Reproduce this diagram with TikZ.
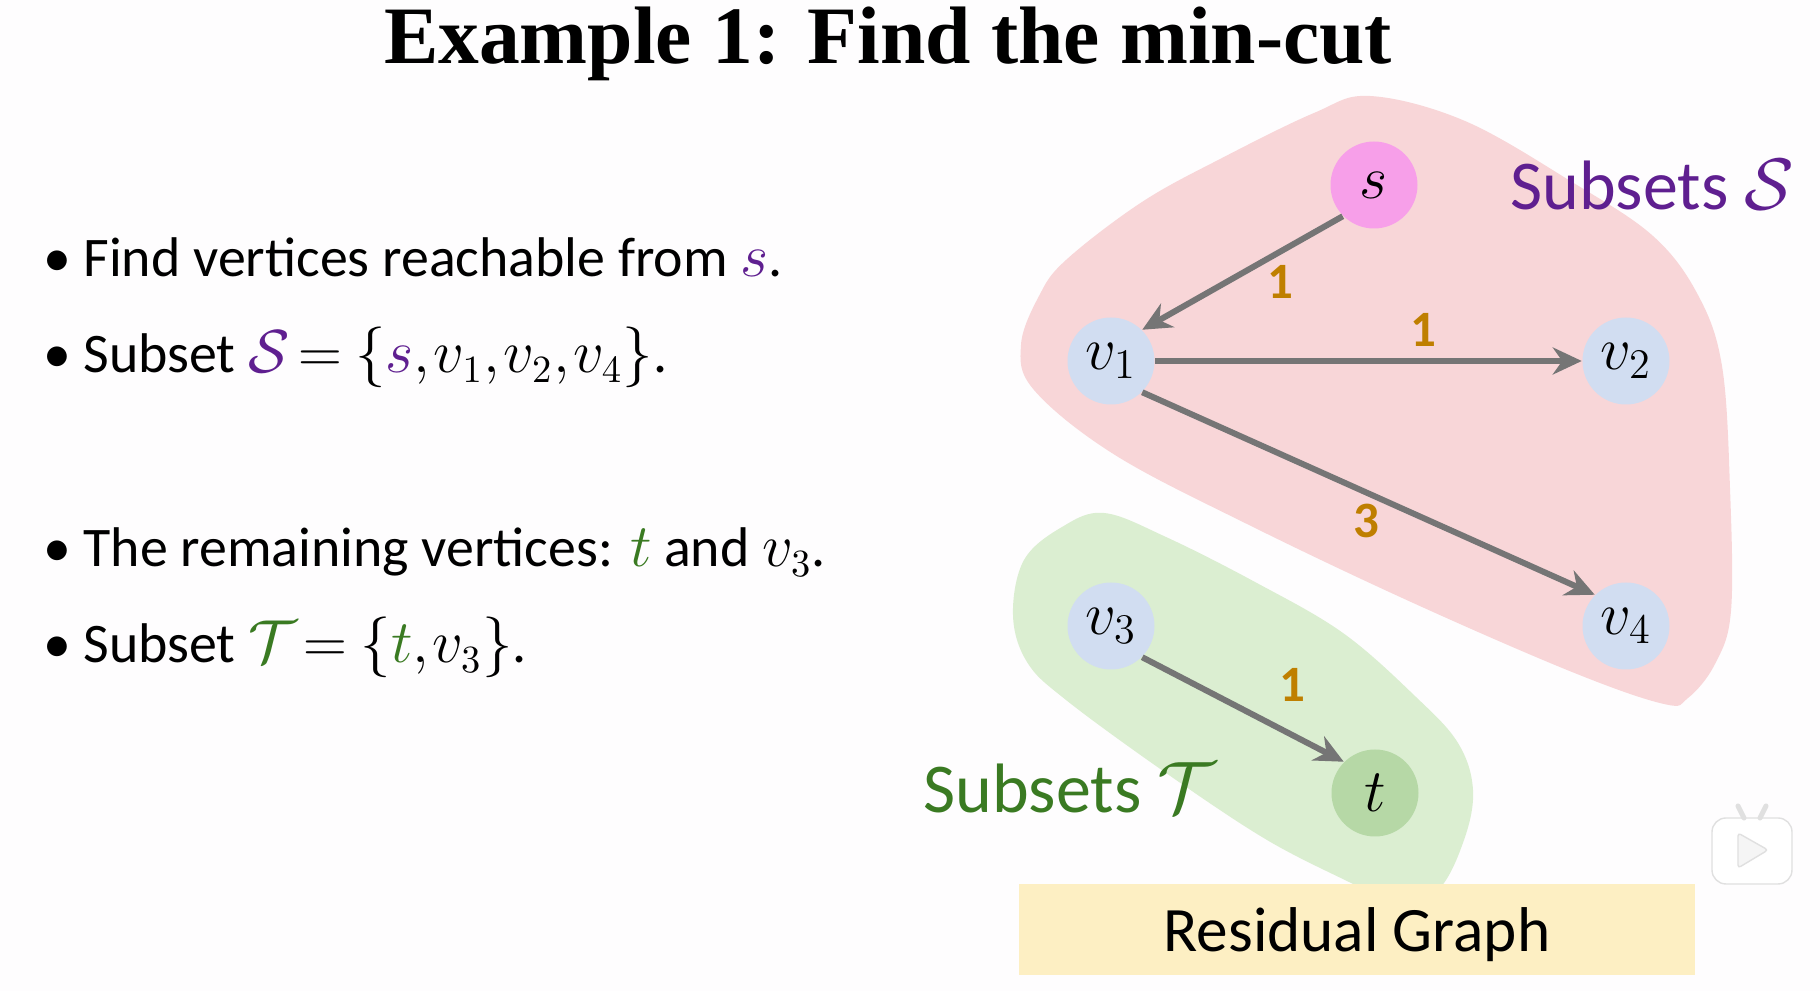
\documentclass[tikz,border=0pt]{standalone}
\usepackage{amsmath,amssymb}
\usepackage{fontspec}
\setmainfont{Carlito}
\newfontfamily\titlefont{Liberation Serif}
\usetikzlibrary{arrows.meta,positioning}
\definecolor{pagebg}{HTML}{FEFDFE}
\definecolor{setSred}{HTML}{F8D6D8}
\definecolor{setTgreen}{HTML}{DBEED1}
\definecolor{vtxblue}{HTML}{D1DDF1}
\definecolor{srcpink}{HTML}{F79FE9}
\definecolor{snkgreen}{HTML}{B6D8A6}
\definecolor{edgegray}{HTML}{757575}
\definecolor{wtorange}{HTML}{BF7F00}
\definecolor{txtpurple}{HTML}{5F1F90}
\definecolor{txtgreen}{HTML}{3A7A22}
\definecolor{bannerY}{HTML}{FDEFC3}
\newcommand{\bodyfont}{\fontsize{15.9}{19}\selectfont}
\newcommand{\Spur}[1]{\textcolor{txtpurple}{#1}}
\newcommand{\Tgrn}[1]{\textcolor{txtgreen}{#1}}
\tikzset{
  vtx/.style={circle,fill=vtxblue,minimum size=0.87cm,inner sep=0pt,font=\fontsize{18}{21}\selectfont},
  flowarr/.style={-{Stealth[length=0.29cm,width=0.27cm]},line width=0.06cm,edgegray},
  wt/.style={font=\fontsize{14.5}{17}\selectfont\bfseries,text=wtorange,inner sep=0pt},
  bullet/.style={anchor=base west,font=\bodyfont,inner sep=0pt},
  setlabel/.style={anchor=base west,font=\fontsize{19.9}{23}\selectfont,inner sep=0pt},
}
\begin{document}
\begin{tikzpicture}
  \useasboundingbox (0,0) rectangle (18.2,-9.91);
  \fill[pagebg] (0,0) rectangle (18.2,-9.91);
  % the two subsets, read off by hand
  \fill[setSred] plot[smooth cycle,tension=0.6] coordinates {(13.70,-0.96) (14.65,-1.21) (15.72,-1.82)
    (16.53,-2.36) (16.98,-2.95) (17.22,-3.66) (17.30,-4.88) (17.31,-6.11) (17.15,-6.64)
    (16.88,-6.98) (16.64,-7.04) (15.72,-6.72) (14.11,-6.02) (12.49,-5.25) (11.15,-4.55)
    (10.34,-3.90) (10.21,-3.45) (10.39,-2.96) (10.66,-2.60) (11.42,-2.02) (12.22,-1.58) (13.14,-1.13)};
  \fill[setTgreen] plot[smooth cycle,tension=0.6] coordinates {(11.04,-5.13) (11.66,-5.37) (12.55,-5.82)
    (13.43,-6.33) (14.16,-6.97) (14.58,-7.43) (14.73,-7.90) (14.64,-8.40) (14.38,-8.90)
    (13.95,-9.05) (13.55,-8.85) (12.67,-8.40) (11.66,-7.73) (10.66,-7.00) (10.27,-6.62)
    (10.13,-6.15) (10.24,-5.60) (10.62,-5.27)};
  \node[fill=bannerY,minimum width=6.76cm,minimum height=0.91cm,inner sep=0pt,text height=0.58cm,text depth=0.14cm,font=\fontsize{18}{21}\selectfont] (banner) at (13.57,-9.295) {Residual Graph};
  \node[font=\fontsize{23.2}{28}\titlefont\bfseries\selectfont,anchor=base,inner sep=0pt] (title) at (8.88,-0.64) {Example 1: Find the min-cut};
  % left column
  \node[bullet] (line1) at (0.43,-2.77) {\textbullet\hspace{0.12cm}Find vertices reachable from \Spur{$s$}.};
  \node[bullet] (line2) at (0.43,-3.73) {\textbullet\hspace{0.12cm}Subset \Spur{$\mathcal{S}$}\hspace{-0.04cm} $=\mkern-1mu\{\Spur{s},\mkern-2mu v_1,\mkern-2mu v_2,\mkern-2mu v_4\}$.};
  \node[bullet] (line3) at (0.43,-5.67) {\textbullet\hspace{0.12cm}The remaining vertices: \Tgrn{$t$} and $v_3$.};
  \node[bullet] (line4) at (0.43,-6.63) {\textbullet\hspace{0.12cm}Subset \Tgrn{$\mathcal{T}$}\hspace{-0.06cm} $=\mkern-1mu\{\Tgrn{t},\mkern-2mu v_3\}$.};
  % graph
  \node[vtx,fill=srcpink] (s) at (13.74,-1.85) {$s$};
  \node[vtx] (v1) at (11.11,-3.61) {$v_1$};
  \node[vtx] (v2) at (16.26,-3.61) {$v_2$};
  \node[vtx] (v3) at (11.11,-6.26) {$v_3$};
  \node[vtx] (v4) at (16.26,-6.26) {$v_4$};
  \node[vtx,fill=snkgreen] (t) at (13.75,-7.93) {$t$};
  \draw[flowarr] (s.225) -- (v1.45);
  \draw[flowarr] (v1) -- (v2);
  \draw[flowarr] (v1.-45) -- (v4.135);
  \draw[flowarr] (v3.-45) -- (t.135);
  \node[wt] (w1) at (12.80,-2.82) {1};
  \node[wt] (w2) at (14.23,-3.30) {1};
  \node[wt] (w3) at (13.66,-5.21) {3};
  \node[wt] (w4) at (12.92,-6.85) {1};
  \node[setlabel,text=txtpurple] (labS) at (15.10,-2.10) {Subsets $\mathcal{S}$};
  \node[setlabel,text=txtgreen] (labT) at (9.23,-8.13) {Subsets $\mathcal{T}$};
  % player mark in the corner
  \node[draw=black!12,fill=white,rounded corners=0.14cm,minimum width=0.8cm,minimum height=0.66cm,inner sep=0pt] (logo) at (17.52,-8.51) {};
  \coordinate (earL) at (17.38,-8.06);
  \coordinate (earR) at (17.66,-8.06);
  \draw[black!12,line width=0.05cm,line cap=round] (earL) -- (17.44,-8.18);
  \draw[black!12,line width=0.05cm,line cap=round] (earR) -- (17.60,-8.18);
  \filldraw[fill=white!96!black,draw=black!12,rounded corners=0.03cm] (17.38,-8.33) -- (17.68,-8.50) -- (17.38,-8.68) -- cycle;
\end{tikzpicture}
\end{document}
